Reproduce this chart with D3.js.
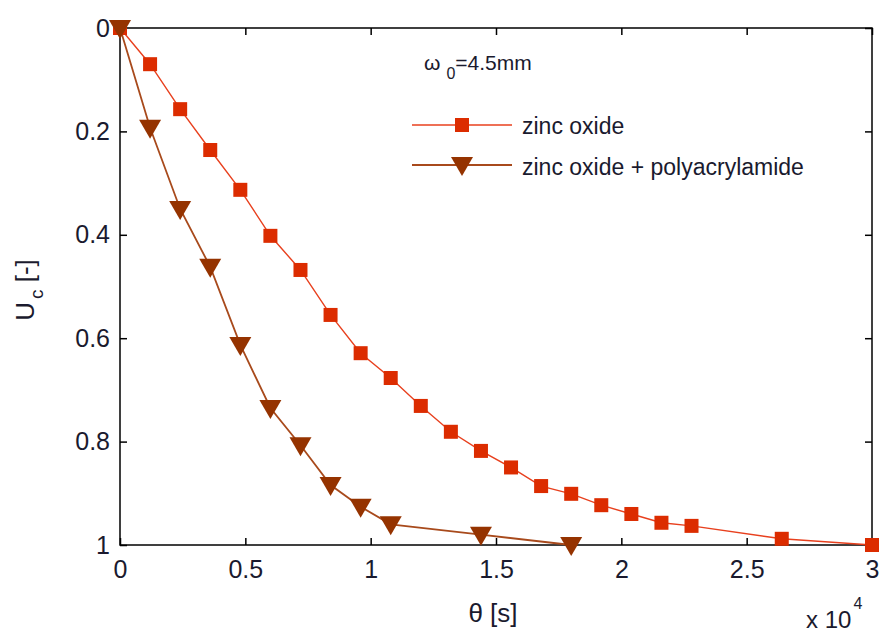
<!DOCTYPE html>
<html>
<head>
<meta charset="utf-8">
<script src="https://cdn.jsdelivr.net/npm/d3@7"></script>
<style>
body { margin: 0; background: #fff; }
text { font-family: "Liberation Sans", Arial, sans-serif; fill: #1a1a2e; }
</style>
</head>
<body>
<script>
var w = 882;
var h = 632;

// theta [s] and Uc [-]
var zincTime = [0, 1200, 2400, 3600, 4800, 6000, 7200, 8400, 9600, 10800, 12000, 13200, 14400, 15600, 16800, 18000, 19200, 20400, 21600, 22800, 26400, 30000];
var zincUc = [0, 0.07, 0.157, 0.236, 0.313, 0.402, 0.468, 0.555, 0.629, 0.677, 0.731, 0.781, 0.818, 0.85, 0.886, 0.901, 0.923, 0.94, 0.957, 0.963, 0.988, 1.0];
var polyTime = [0, 1200, 2400, 3600, 4800, 6000, 7200, 8400, 9600, 10800, 14400, 18000];
var polyUc = [0, 0.193, 0.35, 0.462, 0.613, 0.735, 0.807, 0.884, 0.926, 0.96, 0.98, 1.0];
var xTicks = [0, 5000, 10000, 15000, 20000, 25000, 30000];
var yTicks = [0, 0.2, 0.4, 0.6, 0.8, 1];
var seriesNames = ["zinc oxide", "zinc oxide + polyacrylamide"];

var pL = 120, pR = 872, pT = 28, pB = 545;

var svg = d3.select("body").append("svg")
    .attr("width", w)
    .attr("height", h);

var x = d3.scaleLinear().domain([0, 30000]).range([pL, pR]);
var y = d3.scaleLinear().domain([0, 1]).range([pT, pB]);

// axes box
svg.append("rect")
    .attr("x", pL).attr("y", pT)
    .attr("width", pR - pL).attr("height", pB - pT)
    .attr("fill", "none").attr("stroke", "#000").attr("stroke-width", 1.5);

var fmtX = function(d){ return d / 10000; };
var fmtY = function(d){ return d; };

var axB = svg.append("g").attr("transform", "translate(0," + pB + ")")
    .call(d3.axisBottom(x).tickValues(xTicks).tickFormat(fmtX).tickSizeInner(-7).tickSizeOuter(0).tickPadding(15));
var axT = svg.append("g").attr("transform", "translate(0," + pT + ")")
    .call(d3.axisTop(x).tickValues(xTicks).tickFormat("").tickSizeInner(-7).tickSizeOuter(0));
var axL = svg.append("g").attr("transform", "translate(" + pL + ",0)")
    .call(d3.axisLeft(y).tickValues(yTicks).tickFormat(fmtY).tickSizeInner(-7).tickSizeOuter(0).tickPadding(10));
var axR = svg.append("g").attr("transform", "translate(" + pR + ",0)")
    .call(d3.axisRight(y).tickValues(yTicks).tickFormat("").tickSizeInner(-7).tickSizeOuter(0));

[axB, axT, axL, axR].forEach(function(a){
    a.select(".domain").remove();
    a.selectAll("line").attr("stroke", "#000").attr("stroke-width", 1.5);
    a.selectAll("text").attr("font-size", 25).attr("fill", "#1a1a2e")
        .attr("font-family", "Liberation Sans, Arial, sans-serif");
});

var line = d3.line()
    .x(function(d){ return x(d[0]); })
    .y(function(d){ return y(d[1]); });

var zinc = d3.zip(zincTime, zincUc);
var poly = d3.zip(polyTime, polyUc);

svg.append("path").datum(zinc)
    .attr("d", line).attr("fill", "none")
    .attr("stroke", "#e8401e").attr("stroke-width", 1.4);
svg.append("path").datum(poly)
    .attr("d", line).attr("fill", "none")
    .attr("stroke", "#a84a1c").attr("stroke-width", 1.8);

var sq = 14;
svg.selectAll("rect.zinc").data(zinc).enter()
    .append("rect").attr("class", "zinc")
    .attr("x", function(d){ return x(d[0]) - sq/2; })
    .attr("y", function(d){ return y(d[1]) - sq/2; })
    .attr("width", sq).attr("height", sq)
    .attr("fill", "#dc2c00");

function tri(cx, cy){
    return "M" + (cx-11) + "," + (cy-8) + "L" + (cx+11) + "," + (cy-8) + "L" + cx + "," + (cy+11) + "Z";
}
svg.selectAll("path.poly").data(poly).enter()
    .append("path").attr("class", "poly")
    .attr("d", function(d){ return tri(x(d[0]), y(d[1])); })
    .attr("fill", "#953300");

// legend
var lg = svg.append("g");
lg.append("line").attr("x1", 412).attr("x2", 512).attr("y1", 125).attr("y2", 125)
    .attr("stroke", "#e8401e").attr("stroke-width", 1.4);
lg.append("rect").attr("x", 462 - sq/2).attr("y", 125 - sq/2).attr("width", sq).attr("height", sq)
    .attr("fill", "#dc2c00");
lg.append("text").attr("x", 522).attr("y", 134).attr("font-size", 23).text(seriesNames[0]);
lg.append("line").attr("x1", 412).attr("x2", 512).attr("y1", 165).attr("y2", 165)
    .attr("stroke", "#a84a1c").attr("stroke-width", 1.8);
lg.append("path").attr("d", tri(462, 165)).attr("fill", "#953300");
lg.append("text").attr("x", 522).attr("y", 175).attr("font-size", 23).text(seriesNames[1]);

// annotation
var ann = svg.append("text").attr("x", 424).attr("y", 70).attr("font-size", 21);
ann.append("tspan").text("ω");
ann.append("tspan").attr("dx", 6).attr("dy", 9).attr("font-size", 16).text("0");
ann.append("tspan").attr("dy", -9).text("=4.5mm");

// axis labels
svg.append("text").attr("x", 493).attr("y", 622).attr("text-anchor", "middle")
    .attr("font-size", 26).text("θ [s]");
var ex = svg.append("text").attr("x", 806).attr("y", 628).attr("font-size", 24);
ex.append("tspan").text("x 10");
ex.append("tspan").attr("dx", 2).attr("dy", -19).attr("font-size", 16).text("4");

var yl = svg.append("text").attr("transform", "translate(34,290) rotate(-90)")
    .attr("text-anchor", "middle").attr("font-size", 26);
yl.append("tspan").text("U");
yl.append("tspan").attr("dx", 3).attr("dy", 9).attr("font-size", 19).text("c");
yl.append("tspan").attr("dy", -9).text(" [-]");
</script>
</body>
</html>
